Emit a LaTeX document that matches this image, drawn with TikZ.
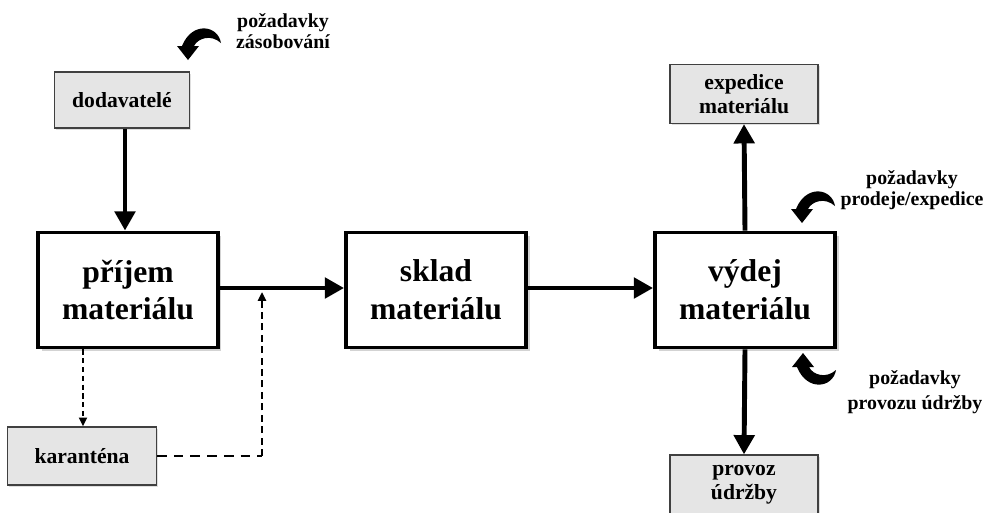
\documentclass[tikz,border=0pt]{standalone}
\usepackage{fontspec}
\setmainfont{Liberation Serif}
\usetikzlibrary{arrows.meta,shadows,calc}

\tikzset{
  bigbox/.style={draw, line width=2.2pt, fill=white, minimum width=3.6cm, minimum height=2.3cm,
    align=center, font=\bfseries\fontsize{18}{21.5}\selectfont,
    drop shadow={shadow xshift=2pt, shadow yshift=-2pt, opacity=0.35, fill=gray}},
  smallbox/.style={draw=black!75, line width=0.7pt, fill=black!10, align=center,
    font=\bfseries\fontsize{12.3}{13.6}\selectfont,
    drop shadow={shadow xshift=1pt, shadow yshift=-1pt, opacity=0.25, fill=gray}},
  flow/.style={line width=2.8pt, -{Triangle[length=11pt,width=11.5pt]}},
  dashflow/.style={line width=1.2pt, dash pattern=on 3pt off 2pt, -{Triangle[length=5pt,width=4.5pt]}},
  dashline/.style={line width=1.6pt, dash pattern=on 5.5pt off 4pt},
  reqlabel/.style={align=center, font=\bfseries\fontsize{11.3}{12}\selectfont},
  reqarrow/.pic={
    \fill (33,-17) .. controls (30,-35) and (4,-39) .. (-6,-14)
      -- (-11,-14) -- (0,0) -- (11,-14) -- (6,-14)
      .. controls (10,-22) and (23,-26) .. (33,-17) -- cycle;
  }
}

\begin{document}
\begin{tikzpicture}[x=0.02cm, y=-0.02cm]
  \useasboundingbox (0,0) rectangle (993,512);

  % main chain of the material flow
  \node[bigbox] (prijem) at (128,290) {příjem\\materiálu};
  \node[bigbox] (sklad)  at (436,290) {sklad\\materiálu};
  \node[bigbox] (vydej)  at (745,290) {výdej\\materiálu};

  % surrounding boxes
  \node[smallbox, minimum width=2.7cm, minimum height=1.12cm] (dod) at (122,100) {dodavatelé};
  \node[smallbox, minimum width=2.96cm, minimum height=1.18cm] (exp) at (744,94) {expedice\\materiálu};
  \node[smallbox, minimum width=2.96cm, minimum height=1.2cm] (udr) at (744,485) {provoz\\údržby};
  \node[smallbox, minimum width=2.98cm, minimum height=1.16cm] (kar) at (82,456) {karanténa};

  % solid flows
  \coordinate (mid) at (0,288);
  \draw[flow] (dod.south -| 125,0) -- (prijem.north -| 125,0);
  \draw[flow] (prijem.east |- mid) -- (sklad.west |- mid);
  \draw[flow] (sklad.east |- mid) -- (vydej.west |- mid);
  \draw[flow] (vydej.north) -- (exp.south);
  \draw[flow] (vydej.south) -- (udr.north);

  % quarantine loop
  \coordinate (back) at (262,288);
  \draw[dashflow] (prijem.south -| 83,0) -- (kar.north -| 83,0);
  \draw[dashline] (kar.east) -- (kar.east -| back);
  \draw[dashflow, dash pattern=on 4pt off 2.5pt, line width=1.4pt] (kar.east -| back) -- ($(back)+(0,4)$);

  % request arrows and labels
  \pic at (188,60) {reqarrow};
  \pic at (802,223) {reqarrow};
  \pic[yscale=-1] at (803,353) {reqarrow};

  \node[reqlabel] (rz) at (283,31) {požadavky\\zásobování};
  \node[reqlabel] (rp) at (912,190) {požadavky\\prodeje/expedice};
  \node[reqlabel, font=\bfseries\fontsize{11.3}{14}\selectfont] (ru) at (915,392) {požadavky\\provozu údržby};
\end{tikzpicture}
\end{document}
